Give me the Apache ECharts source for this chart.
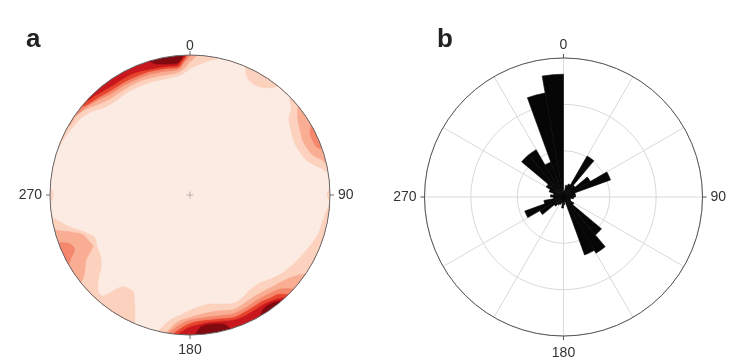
<!DOCTYPE html>
<html>
<head>
<meta charset="utf-8">
<script src="https://cdn.jsdelivr.net/npm/echarts@6/dist/echarts.min.js"></script>
<style>
html,body{margin:0;padding:0;background:#fff;}
#chart{width:737px;height:364px;}
</style>
</head>
<body>
<div id="chart"></div>
<script>
// ---------- DATA ----------
// Panel labels and azimuth tick labels
const panelLetters = ['a', 'b'];
const azimuthTicks = [0, 90, 180, 270];

// Panel b: rose diagram, 10-degree bins (start azimuth) and counts
const roseBinStart = [0,10,20,30,40,50,60,70,80,90,100,110,120,130,140,150,160,170,
                      180,190,200,210,220,230,240,250,260,270,280,290,300,310,320,330,340,350];
const roseCounts   = [1.3,2.6,3.0,10.2,3.3,6.7,10.8,2.6,2.6,2.2,1.5,1.7,2.6,10.7,14.0,13.3,1.1,1.7,
                      2.4,1.3,1.7,2.0,2.6,5.9,8.9,4.3,2.2,2.8,2.2,3.3,4.3,11.8,11.8,8.0,22.8,26.5];
const roseMax = 30;

// Panel a: density contours. For each contour level k, [azimuth, normalized radius]
// at which density >= level k begins (1.1 = level not reached inside the net).
const densityColors = ['#fcebe2', '#fcd2bf', '#f9ae93', '#f4876c', '#e8452f', '#c8171d', '#800a10'];
const contourLevel1 = [
 [0,0.90],[4,0.93],[8,0.965],[12,1.0],[14,1.1],
 [21,1.1],[23,1.0],[26,0.93],[30,0.91],[35,0.93],[38,0.97],[40,1.1],
 [44,1.1],[46,0.985],[49,0.955],[52,0.89],[56,0.86],[61,0.835],[65,0.83],[69,0.84],[73,0.86],[76,0.9],[79,0.96],[81,1.0],[83,1.1],
 [85,1.1],[87,1.0],[90,0.975],[93,1.0],[95,0.985],[100,0.965],[108,0.95],[117,0.91],[124,0.885],[130,0.86],[135,0.835],[141,0.80],[148,0.80],[153,0.82],[157,0.83],[162,0.815],[168,0.79],[175,0.795],[180,0.82],[185,0.86],[189,0.9],[192,0.96],[194,1.02],[196,1.1],
 [201,1.1],[203,1.0],[205,0.92],[207,0.865],[210,0.80],[213,0.795],[216,0.805],[218,0.84],[219.5,0.9],[221,0.95],[222.5,0.955],[225,0.925],[228,0.87],[231,0.81],[234,0.78],[237,0.765],[241,0.755],[246,0.74],[249,0.77],[253,0.835],[256,0.9],[259,0.955],[261,1.0],[263,1.1],
 [265,1.1],[267,1.0],[270,0.975],[273,1.0],[275,1.1],
 [280,1.1],[287,1.1],[290,1.0],[295,0.98],[300,0.965],[305,0.95],[310,0.92],[315,0.875],[320,0.855],[330,0.855],[340,0.85],[350,0.845],[356,0.86],[360,0.90]
];
const contourLevel2 = [
 [0,0.95],[3,1.0],[5,1.1],[20,1.1],[35,1.1],
 [47,1.1],[50,1.0],[54,0.945],[59,0.912],[65,0.89],[70,0.905],[73,0.93],[75,0.97],[77,1.0],[79,1.1],
 [95,1.1],[110,1.1],[120,1.1],[124,1.0],[128,0.94],[132,0.905],[136,0.885],[140,0.87],[146,0.856],[152,0.86],[159,0.872],[164,0.855],[169,0.845],[176,0.855],[181,0.875],[185,0.9],[188,0.95],[190,1.0],[192,1.1],
 [200,1.1],[215,1.1],[229,1.1],[231,1.0],[232.5,0.95],[235,0.91],[238,0.87],[240,0.82],[242,0.782],[246,0.793],[250,0.815],[252,0.86],[253.5,0.907],[255,0.97],[256,1.0],[258,1.1],
 [270,1.1],[285,1.1],[296,1.1],[299,1.0],[305,0.985],[310,0.955],[315,0.915],[320,0.89],[325,0.885],[335,0.885],[345,0.875],[350,0.87],[355,0.88],[358,0.91],[360,0.95]
];
const contourLevel3 = [
 [0,0.99],[1,1.0],[3,1.1],[20,1.1],[40,1.1],[58,1.1],[60,1.0],[62,0.966],[65.5,0.955],[69.6,0.966],[71,1.0],[73,1.1],
 [90,1.1],[110,1.1],[130,1.1],[132,1.0],[135,0.94],[140,0.905],[145,0.89],[150,0.89],[155,0.895],[160,0.9],[165,0.885],[171,0.877],[176,0.88],[180,0.89],[184,0.92],[187,0.96],[189,1.0],[190,1.1],
 [205,1.1],[220,1.1],[238,1.1],[240,1.0],[242,0.957],[244.6,0.909],[248.6,0.934],[250.4,1.0],[252,1.1],
 [270,1.1],[290,1.1],[303,1.1],[305,1.0],[310,0.97],[315,0.945],[320,0.92],[325,0.91],[330,0.91],[340,0.905],[345,0.9],[350,0.895],[355,0.9],[358,0.95],[360,0.99]
];
const contourLevel4 = [
 [0,1.1],[20,1.1],[40,1.1],[60,1.1],[80,1.1],[100,1.1],[120,1.1],[133,1.1],[135,1.0],[138,0.95],[142,0.93],[146,0.915],[150,0.915],[155,0.92],[160,0.925],[165,0.91],[171,0.9],[176,0.9],[180,0.915],[183,0.94],[186,0.98],[187,1.0],[188,1.1],
 [205,1.1],[225,1.1],[245,1.1],[265,1.1],[285,1.1],[300,1.1],[308,1.1],[309,1.0],[312,0.97],[316,0.955],[320,0.94],[325,0.93],[330,0.93],[340,0.925],[345,0.92],[350,0.915],[355,0.915],[357,0.95],[359,1.0],[360,1.1]
];
const contourLevel5 = [
 [0,1.1],[20,1.1],[40,1.1],[60,1.1],[80,1.1],[100,1.1],[120,1.1],[135,1.1],[137,1.0],[141,0.96],[146,0.94],[150,0.94],[155,0.945],[160,0.945],[165,0.93],[171,0.917],[176,0.925],[180,0.94],[183,0.97],[185,1.0],[186,1.1],
 [205,1.1],[225,1.1],[245,1.1],[265,1.1],[285,1.1],[300,1.1],[310,1.1],[312,1.0],[316,0.98],[320,0.965],[325,0.955],[330,0.955],[335,0.955],[340,0.945],[345,0.935],[350,0.93],[354,0.925],[357,0.97],[358.5,1.0],[360,1.1]
];
const contourLevel6 = [
 [0,1.1],[20,1.1],[40,1.1],[60,1.1],[80,1.1],[100,1.1],[120,1.1],[137,1.1],[139,1.0],[143,0.965],[147,0.965],[150,1.0],[152,1.1],[161,1.1],[163,1.0],[166,0.945],[171,0.931],[175,0.94],[177,0.97],[178,1.0],[179,1.1],
 [200,1.1],[220,1.1],[240,1.1],[260,1.1],[280,1.1],[300,1.1],[320,1.1],[341,1.1],[343,1.0],[346,0.96],[350,0.945],[354,0.94],[356,0.96],[357.5,1.0],[359,1.1],[360,1.1]
];
const contourLevels = [contourLevel1, contourLevel2, contourLevel3, contourLevel4, contourLevel5, contourLevel6];
const fullDisc = [[0,1.1],[20,1.1],[40,1.1],[60,1.1],[80,1.1],[100,1.1],[120,1.1],[140,1.1],[160,1.1],[180,1.1],[200,1.1],[220,1.1],[240,1.1],[260,1.1],[280,1.1],[300,1.1],[320,1.1],[340,1.1],[360,1.1]];

// ---------- CHART ----------
const FONT = 'Liberation Sans, Arial, sans-serif';
const chart = echarts.init(document.getElementById('chart'), null, {renderer: 'canvas'});

const tickLabelFmt = v => (azimuthTicks.indexOf(v) >= 0 ? String(v) : '');

// Contour fills: darkest first (full disc), then each lighter level inside the next threshold.
const contourSeries = [];
const fillOrder = [fullDisc].concat(contourLevels.slice().reverse());
fillOrder.forEach((thr, i) => {
  const color = densityColors[6 - i];
  contourSeries.push({
    type: 'line', coordinateSystem: 'polar', polarIndex: 0,
    data: thr.map(p => [p[1], p[0]]),
    showSymbol: false, symbol: 'none', smooth: 0.35, clip: true, silent: true,
    lineStyle: {width: 0.6, color: color},
    areaStyle: {color: color, opacity: 1},
    z: 2
  });
});

const option = {
  backgroundColor: '#ffffff',
  animation: false,
  title: [
    {text: panelLetters[0], left: 26, top: 27, padding: 0,
     textStyle: {fontSize: 26, fontWeight: 'bold', color: '#222', fontFamily: FONT}},
    {text: panelLetters[1], left: 437, top: 27, padding: 0,
     textStyle: {fontSize: 26, fontWeight: 'bold', color: '#222', fontFamily: FONT}}
  ],
  polar: [
    {center: [190, 195], radius: 140},
    {center: [563.5, 197], radius: 139},
    {center: [563.5, 197], radius: 139},
    {center: [563.5, 197], radius: 139}
  ],
  angleAxis: [
    {polarIndex: 0, type: 'value', min: 0, max: 360, interval: 90, startAngle: 90, clockwise: true, z: 10,
     axisLine: {show: true, lineStyle: {color: '#6a6a6a', width: 1}},
     axisTick: {show: true, length: 4, lineStyle: {color: '#6a6a6a'}},
     axisLabel: {formatter: tickLabelFmt, margin: 2, padding: [6, 6, 0, 6], fontSize: 14, color: '#333', fontFamily: FONT},
     splitLine: {show: false}},
    {polarIndex: 1, type: 'category', data: roseBinStart, startAngle: 90, clockwise: true, show: false,
     boundaryGap: true},
    {polarIndex: 2, type: 'value', min: 0, max: 360, interval: 30, startAngle: 90, clockwise: true, z: 0,
     axisLine: {show: false}, axisTick: {show: false}, axisLabel: {show: false},
     splitLine: {show: true, lineStyle: {color: '#d9d9d9', width: 1}}},
    {polarIndex: 3, type: 'value', min: 0, max: 360, interval: 90, startAngle: 90, clockwise: true, z: 10,
     axisLine: {show: true, lineStyle: {color: '#555', width: 1}},
     axisTick: {show: true, length: 4, lineStyle: {color: '#555'}},
     axisLabel: {formatter: tickLabelFmt, margin: 6, padding: [4, 2, 0, 2], fontSize: 14, color: '#333', fontFamily: FONT},
     splitLine: {show: false}}
  ],
  radiusAxis: [
    {polarIndex: 0, type: 'value', min: 0, max: 1, show: false, splitLine: {show: false}},
    {polarIndex: 1, type: 'value', min: 0, max: roseMax, show: false, splitLine: {show: false}},
    {polarIndex: 2, type: 'value', min: 0, max: roseMax, interval: 10, z: 0,
     axisLine: {show: false}, axisTick: {show: false}, axisLabel: {show: false},
     splitLine: {show: true, lineStyle: {color: '#d9d9d9', width: 1}}},
    {polarIndex: 3, type: 'value', min: 0, max: roseMax, show: false, splitLine: {show: false}}
  ],
  series: contourSeries.concat([
    {type: 'scatter', coordinateSystem: 'polar', polarIndex: 0, data: [[0, 0]],
     symbol: 'path://M4.6,0h0.8v10h-0.8z M0,4.6h10v0.8h-10z', symbolSize: 7,
     itemStyle: {color: '#666'}, silent: true, z: 5},
    {type: 'bar', coordinateSystem: 'polar', polarIndex: 1, data: roseCounts,
     barWidth: '100%', itemStyle: {color: '#060606', borderColor: '#060606', borderWidth: 0.6}, silent: true, z: 3}
  ])
};
chart.setOption(option);
</script>
</body>
</html>
